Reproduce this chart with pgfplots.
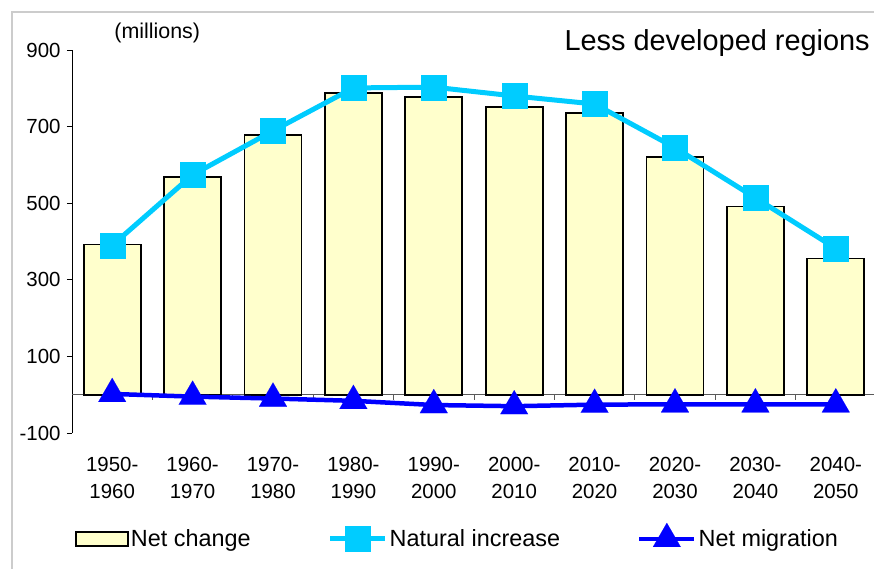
\documentclass[border=0pt]{standalone}
\usepackage{fontspec}
\setmainfont{Liberation Sans}
\usepackage{pgfplots}
\pgfplotsset{compat=1.18}

\definecolor{barfill}{RGB}{255,255,204}
\definecolor{natcol}{RGB}{0,204,255}
\definecolor{migcol}{RGB}{0,0,255}

\pgfplotsset{
  barlegend/.style={legend image code/.code={\draw[##1] (1bp,-7bp) rectangle (53bp,7bp);}},
  linelegend/.style={legend image code/.code={\draw[##1] (0bp,0bp) -- (55bp,0bp);
    \path[##1] plot coordinates {(27.5bp,0bp)};}},
}

\begin{document}
\begin{tikzpicture}
\path[use as bounding box] (0,0) rectangle (874bp,569bp);
% outer frame (left and top only visible)
\draw[gray!40, line width=1.2bp] (12bp,0) -- (12bp,557bp) -- (874bp,557bp);

\begin{axis}[
  at={(72bp,136bp)}, anchor=south west,
  scale only axis,
  width=804bp, height=383bp,
  xmin=-0.5, xmax=9.5,
  ymin=-100, ymax=900,
  ytick={-100,100,300,500,700,900},
  xtick={0,...,9},
  xticklabels={{1950-\\1960},{1960-\\1970},{1970-\\1980},{1980-\\1990},{1990-\\2000},
               {2000-\\2010},{2010-\\2020},{2020-\\2030},{2030-\\2040},{2040-\\2050}},
  xticklabel style={align=center, font=\fontsize{20.5}{27}\selectfont, yshift=-16bp},
  yticklabel style={font=\fontsize{20.5}{24}\selectfont, xshift=-3bp},
  /pgf/number format/assume math mode=true,
  axis x line*=bottom,
  axis y line*=left,
  x axis line style={draw=none},
  y axis line style={black, line width=1bp, -},
  ytick style={black, line width=1bp},
  tick align=outside,
  major tick length=5bp,
  xtick style={draw=none},
  clip=false,
  legend columns=3,
  legend style={at={(rel axis cs:0.4795,-0.272)}, anchor=center, draw=none,
                font=\fontsize{23.5}{27}\selectfont,
                /tikz/every even column/.append style={column sep=75bp}},
]
% zero line and category boundary ticks
\draw[gray!70!black, line width=1bp] (axis cs:-0.5,0) -- (axis cs:9.5,0);
\pgfplotsinvokeforeach{0.5,1.5,2.5,3.5,4.5,5.5,6.5,7.5,8.5}{
  \draw[gray!70!black, line width=1bp] (axis cs:#1,0) -- ++(0bp,-5bp);
}

\addplot[ybar, bar width=57bp, fill=barfill, draw=black, line width=1.7bp, barlegend]
  coordinates {(0,392) (1,569) (2,678) (3,788) (4,778) (5,752) (6,736) (7,621) (8,491) (9,356)};
\addlegendentry{Net change}

\addplot[natcol, line width=5bp, mark=square*, mark size=12.5bp,
  mark options={fill=natcol, draw=natcol, line width=0.1bp}, linelegend]
  coordinates {(0,390) (1,574) (2,689) (3,801) (4,803) (5,780) (6,759) (7,645) (8,514) (9,382)};
\addlegendentry{Natural increase}

\addplot[migcol, line width=4.5bp, mark=triangle*, mark size=16bp,
  mark options={fill=migcol, draw=migcol, line width=0.1bp}, linelegend]
  coordinates {(0,2) (1,-5) (2,-10) (3,-16) (4,-27) (5,-30) (6,-26) (7,-25) (8,-25) (9,-25)};
\addlegendentry{Net migration}

\node[font=\fontsize{21.5}{24}\selectfont] at (rel axis cs:0.106,1.044) {(millions)};
\node[font=\fontsize{29}{32}\selectfont, anchor=base east, inner sep=0pt] at (rel axis cs:0.9925,1.0) {Less developed regions};
\end{axis}
\end{tikzpicture}
\end{document}
